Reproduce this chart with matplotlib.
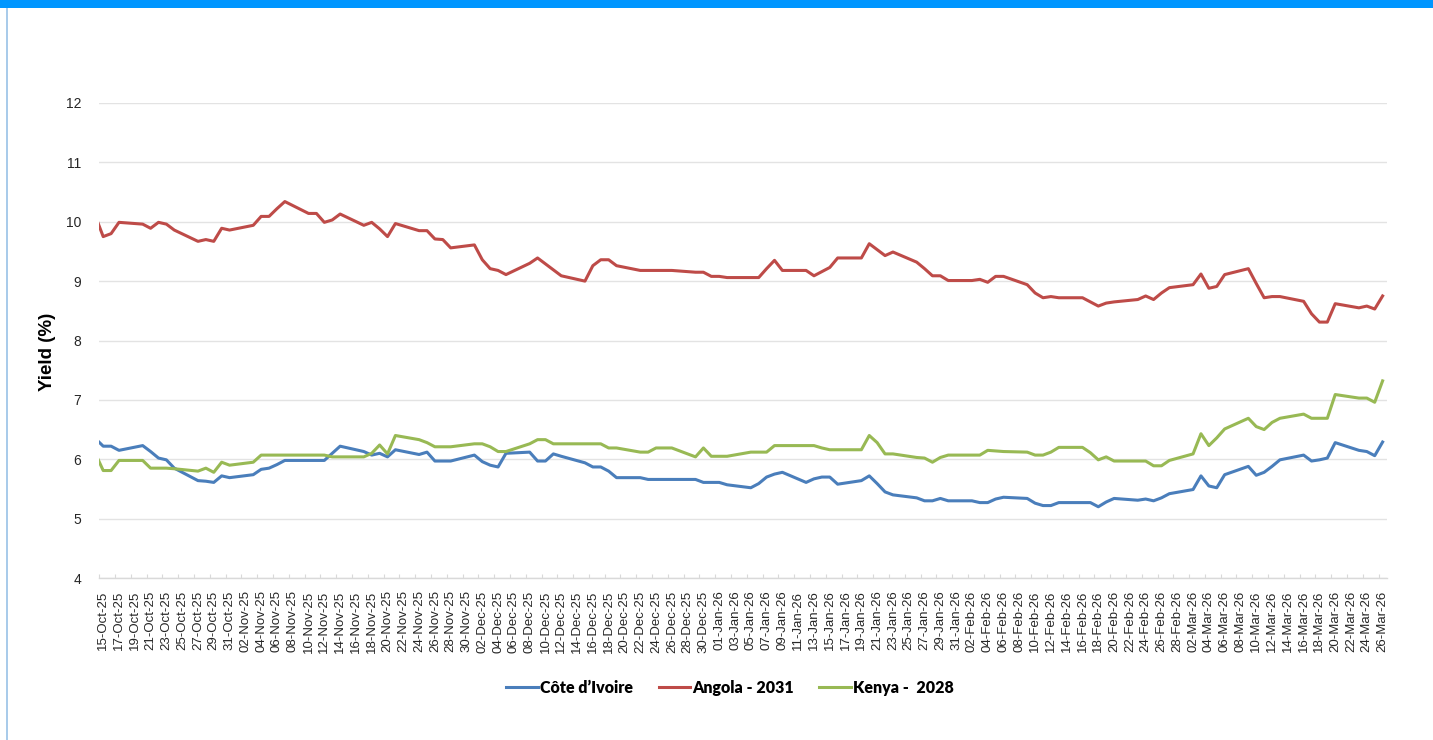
from __future__ import annotations

import matplotlib

matplotlib.use("Agg")

import matplotlib.dates as mdates
import matplotlib.pyplot as plt
import pandas as pd
from matplotlib.patches import Rectangle

# business days, 14-Oct-25 .. 26-Mar-26 (first point sits just left of the axis)
datas = pd.bdate_range("2025-10-14", "2026-03-26")

angola_2031 = [
    10.10, 9.75, 9.80, 9.99, 9.96, 9.89, 9.99, 9.96, 9.86, 9.67, 9.70, 9.67, 9.89, 9.86,
    9.94, 10.09, 10.09, 10.22, 10.34, 10.14, 10.14, 9.99, 10.03, 10.13, 9.94, 9.99, 9.88, 9.75,
    9.97, 9.85, 9.85, 9.71, 9.70, 9.56,
    9.61, 9.36, 9.21, 9.18, 9.11, 9.30, 9.39, 9.29, 9.19, 9.09, 9.00, 9.26, 9.36, 9.36, 9.26,
    9.18, 9.18, 9.18, 9.18, 9.18, 9.15, 9.15, 9.08,
    9.08, 9.06, 9.06, 9.06, 9.21, 9.35, 9.18, 9.18, 9.09, 9.16, 9.23, 9.39, 9.39, 9.63, 9.53,
    9.43, 9.49, 9.32, 9.21, 9.09, 9.09, 9.01,
    9.01, 9.03, 8.98, 9.08, 9.08, 8.94, 8.80, 8.72, 8.74, 8.72, 8.72, 8.65, 8.58, 8.63, 8.65,
    8.69, 8.75, 8.69, 8.80, 8.89,
    8.94, 9.12, 8.88, 8.91, 9.11, 9.21, 8.96, 8.72, 8.74, 8.74, 8.66, 8.45, 8.31, 8.31, 8.62,
    8.55, 8.58, 8.53, 8.75,
]

cote_divoire = [
    6.35, 6.22, 6.22, 6.15, 6.23, 6.13, 6.02, 5.99, 5.85, 5.64, 5.63, 5.61, 5.72, 5.69,
    5.74, 5.83, 5.85, 5.91, 5.98, 5.98, 5.98, 5.98, 6.10, 6.22, 6.13, 6.07, 6.10, 6.04,
    6.16, 6.08, 6.12, 5.97, 5.97, 5.97,
    6.07, 5.96, 5.90, 5.87, 6.10, 6.12, 5.97, 5.97, 6.09, 6.05, 5.94, 5.87, 5.87, 5.80, 5.69,
    5.69, 5.66, 5.66, 5.66, 5.66, 5.66, 5.61, 5.61,
    5.61, 5.57, 5.52, 5.59, 5.70, 5.75, 5.78, 5.61, 5.67, 5.70, 5.70, 5.58, 5.64, 5.72, 5.59,
    5.45, 5.40, 5.35, 5.30, 5.30, 5.34, 5.30,
    5.30, 5.27, 5.27, 5.33, 5.36, 5.34, 5.26, 5.22, 5.22, 5.27, 5.27, 5.27, 5.20, 5.28, 5.34,
    5.31, 5.33, 5.30, 5.35, 5.42,
    5.49, 5.72, 5.55, 5.52, 5.74, 5.88, 5.73, 5.78, 5.88, 5.99, 6.07, 5.97, 5.99, 6.02, 6.28,
    6.15, 6.13, 6.06, 6.29,
]

kenya_2028 = [
    6.10, 5.81, 5.81, 5.98, 5.98, 5.85, 5.85, 5.85, 5.84, 5.80, 5.85, 5.78, 5.95, 5.90,
    5.95, 6.07, 6.07, 6.07, 6.07, 6.07, 6.07, 6.07, 6.04, 6.04, 6.04, 6.10, 6.24, 6.09,
    6.40, 6.33, 6.28, 6.21, 6.21, 6.21,
    6.26, 6.26, 6.21, 6.13, 6.13, 6.26, 6.33, 6.33, 6.26, 6.26, 6.26, 6.26, 6.26, 6.19, 6.19,
    6.12, 6.12, 6.19, 6.19, 6.19, 6.04, 6.19, 6.05,
    6.05, 6.05, 6.12, 6.12, 6.12, 6.23, 6.23, 6.23, 6.23, 6.19, 6.16, 6.16, 6.16, 6.40, 6.28,
    6.09, 6.09, 6.03, 6.02, 5.95, 6.03, 6.07,
    6.07, 6.07, 6.15, 6.14, 6.13, 6.12, 6.07, 6.07, 6.12, 6.20, 6.20, 6.11, 5.99, 6.04, 5.97,
    5.97, 5.97, 5.89, 5.89, 5.98,
    6.09, 6.43, 6.23, 6.36, 6.51, 6.69, 6.55, 6.50, 6.62, 6.69, 6.76, 6.69, 6.69, 6.69, 7.09,
    7.03, 7.03, 6.96, 7.32,
]

series = [
    ("Côte d\u2019Ivoire", cote_divoire, "#4A7EBB"),
    ("Angola - 2031", angola_2031, "#BE4B48"),
    ("Kenya -  2028", kenya_2028, "#98B954"),
]

W, H = 1433, 740
fig = plt.figure(figsize=(W / 100, H / 100), dpi=100)
fig.patch.set_facecolor("white")

# frame decorations: blue band on top, thin light-blue line on the left
fig.patches.append(Rectangle((0, 1 - 8 / H), 1, 8 / H, transform=fig.transFigure,
                             facecolor="#0096FF", edgecolor="none"))
fig.patches.append(Rectangle((6 / W, 0), 2 / W, 1 - 8 / H, transform=fig.transFigure,
                             facecolor="#A9CBEA", edgecolor="none"))

ax = fig.add_axes([99.25 / W, 1 - 578 / H, 1287.3 / W, 475 / H])
ax.set_facecolor("white")

for nome, valores, cor in series:
    ax.plot(datas, valores, color=cor, linewidth=2.2, label=nome, solid_joinstyle="round")

inicio = pd.Timestamp("2025-10-15")
fim = pd.Timestamp("2026-03-26")
meio_dia = pd.Timedelta(hours=12)
ax.set_xlim(inicio - meio_dia, fim + meio_dia)
ax.set_ylim(4, 12)
ax.set_yticks(range(4, 13))

rotulos = pd.date_range(inicio, fim, freq="2D")
ax.set_xticks(rotulos)
ax.xaxis.set_major_formatter(mdates.DateFormatter("%d-%b-%y"))
ax.set_xticks(rotulos - meio_dia, minor=True)
ax.tick_params(axis="x", which="major", length=0, pad=9, labelsize=9.5,
               labelrotation=90, labelcolor="#262626")
ax.tick_params(axis="x", which="minor", direction="in", length=3, width=0.8, color="#D9D9D9")
for rotulo in ax.get_xticklabels():
    rotulo.set_fontfamily("Liberation Sans")
ax.tick_params(axis="y", length=0, pad=13, labelsize=10, labelcolor="#262626")
for rotulo in ax.get_yticklabels():
    rotulo.set_fontfamily("Liberation Sans")

ax.grid(axis="y", color="#E3E3E3", linewidth=1)
ax.set_axisbelow(True)
for lado in ["top", "right", "left"]:
    ax.spines[lado].set_visible(False)
ax.spines["bottom"].set_color("#D9D9D9")
ax.spines["bottom"].set_linewidth(1)

ax.set_ylabel("Yield (%)", fontsize=13.5, fontweight="bold", fontfamily="Liberation Sans",
              color="#000000")
ax.yaxis.set_label_coords(-0.0336, 0.477)

ax.legend(
    loc="center",
    bbox_to_anchor=(730 / W, 1 - 688 / H),
    bbox_transform=fig.transFigure,
    ncol=3,
    frameon=False,
    handlelength=2.0,
    handletextpad=0.1,
    columnspacing=1.6,
    prop={"family": "Lato", "weight": "heavy", "size": 11.5},
)

fig.savefig("out.png", dpi=100, facecolor=fig.get_facecolor())
plt.close(fig)
